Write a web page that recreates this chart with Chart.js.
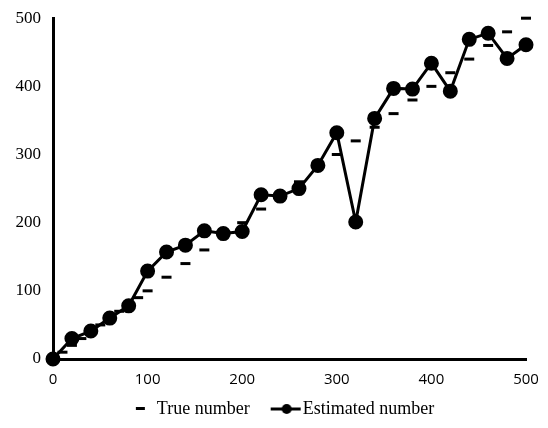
<!DOCTYPE html>
<html>
<head>
<meta charset="utf-8">
<script src="https://cdn.jsdelivr.net/npm/chart.js@4.4.1/dist/chart.umd.min.js"></script>
<style>
  html, body { margin: 0; padding: 0; background: #fff; }
  #wrap { width: 548px; height: 428px; }
</style>
</head>
<body>
<div id="wrap"><canvas id="chart" width="548" height="428"></canvas></div>
<script>
// True values (x = y)
const trueX = [10, 20, 30, 40, 50, 60, 70, 80, 90, 100, 120, 140, 160, 180, 200, 220, 240, 260, 280, 300, 320, 340, 360, 380, 400, 420, 440, 460, 480, 500];
const trueY = [10, 20, 30, 40, 50, 60, 70, 80, 90, 100, 120, 140, 160, 180, 200, 220, 240, 260, 280, 300, 320, 340, 360, 380, 400, 420, 440, 460, 480, 500];

// Estimated values
const estX = [0, 20, 40, 60, 80, 100, 120, 140, 160, 180, 200, 220, 240, 260, 280, 300, 320, 340, 360, 380, 400, 420, 440, 460, 480, 500];
const estY = [0, 30, 41, 60, 78, 129, 157, 167, 188, 184, 187, 241, 239, 250, 284, 332, 201, 353, 397, 396, 434, 393, 469, 478, 441, 461];

const xTicks = [0, 100, 200, 300, 400, 500];
const yTicks = [0, 100, 200, 300, 400, 500];

// legend icons (wider than the legend box, drawn centered on it)
function dashIcon() {
    const c = document.createElement('canvas');
    c.width = 66; c.height = 12;
    const g = c.getContext('2d');
    g.fillStyle = '#000';
    g.fillRect(39, 4, 9, 3);
    return c;
}
function lineDotIcon() {
    const c = document.createElement('canvas');
    c.width = 66; c.height = 12;
    const g = c.getContext('2d');
    g.strokeStyle = '#000';
    g.lineWidth = 3;
    g.beginPath(); g.moveTo(28, 6); g.lineTo(58, 6); g.stroke();
    g.fillStyle = '#000';
    g.beginPath(); g.arc(44, 6, 5, 0, Math.PI * 2); g.fill();
    return c;
}

// nudge the legend a bit to the right, like the original
const shiftLegend = {
    id: 'shiftLegend',
    afterLayout(chart) {
        chart.legend.left += 10;
        chart.legend.right += 10;
    }
};

const ctx = document.getElementById('chart').getContext('2d');
new Chart(ctx, {
    type: 'scatter',
    data: {
        datasets: [{
            label: 'True number',
            data: trueX.map((x, i) => ({ x: x, y: trueY[i] })),
            showLine: false,
            clip: false,
            pointStyle: 'line',
            pointRadius: 5,
            pointBorderWidth: 3,
            borderColor: '#000',
            backgroundColor: '#000',
            legendIcon: dashIcon()
        }, {
            label: 'Estimated number',
            data: estX.map((x, i) => ({ x: x, y: estY[i] })),
            showLine: true,
            clip: false,
            tension: 0,
            borderColor: '#000',
            backgroundColor: '#000',
            borderWidth: 3,
            pointRadius: 6,
            pointBackgroundColor: '#000',
            legendIcon: lineDotIcon()
        }]
    },
    options: {
        responsive: false,
        animation: false,
        layout: { padding: { top: 17, right: 22, left: 0, bottom: 0 } },
        scales: {
            x: {
                type: 'linear',
                min: 0, max: 500,
                afterBuildTicks: s => { s.ticks = xTicks.map(v => ({ value: v })); },
                afterFit: s => { s.height = 33; },
                grid: { display: false, drawTicks: true, tickLength: 6, tickWidth: 2, tickColor: '#000' },
                border: { color: '#000', width: 3 },
                ticks: { color: '#000', padding: 6, font: { family: 'Open Sans', size: 15 } }
            },
            y: {
                min: 0, max: 500,
                afterBuildTicks: s => { s.ticks = yTicks.map(v => ({ value: v })); },
                afterFit: s => { s.width = 53; },
                grid: { display: false, drawTicks: true, tickLength: 4, tickWidth: 2, tickColor: '#000' },
                border: { color: '#000', width: 3 },
                ticks: { color: '#000', padding: 8, font: { family: 'Liberation Serif', size: 17 } }
            }
        },
        plugins: {
            legend: {
                position: 'bottom',
                labels: {
                    color: '#000',
                    usePointStyle: true,
                    pointStyleWidth: 36,
                    padding: 8,
                    font: { family: 'Liberation Serif', size: 18 },
                    generateLabels: chart => chart.data.datasets.map((d, i) => ({
                        text: d.label,
                        pointStyle: d.legendIcon,
                        fillStyle: '#000',
                        strokeStyle: '#000',
                        lineWidth: 0,
                        fontColor: '#000',
                        datasetIndex: i
                    }))
                }
            },
            tooltip: { enabled: false }
        }
    },
    plugins: [shiftLegend]
});
</script>
</body>
</html>
